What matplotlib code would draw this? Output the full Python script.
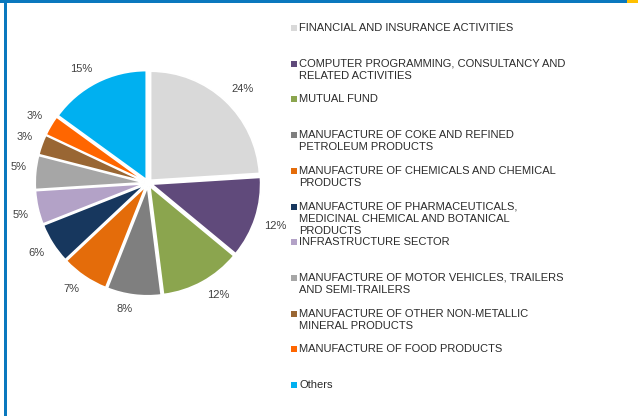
import numpy as np
import matplotlib
matplotlib.use('Agg')
import matplotlib.pyplot as plt
from matplotlib.patches import Rectangle

plt.rcParams['font.family'] = ['Liberation Sans', 'DejaVu Sans']

# data
sectors = [
    'FINANCIAL AND INSURANCE ACTIVITIES',
    'COMPUTER PROGRAMMING, CONSULTANCY AND\nRELATED ACTIVITIES',
    'MUTUAL FUND',
    'MANUFACTURE OF COKE AND REFINED\nPETROLEUM PRODUCTS',
    'MANUFACTURE OF CHEMICALS AND CHEMICAL\nPRODUCTS',
    'MANUFACTURE OF PHARMACEUTICALS,\nMEDICINAL CHEMICAL AND BOTANICAL\nPRODUCTS',
    'INFRASTRUCTURE SECTOR',
    'MANUFACTURE OF MOTOR VEHICLES, TRAILERS\nAND SEMI-TRAILERS',
    'MANUFACTURE OF OTHER NON-METALLIC\nMINERAL PRODUCTS',
    'MANUFACTURE OF FOOD PRODUCTS',
    'Others',
]
shares = [24, 12, 12, 8, 7, 6, 5, 5, 3, 3, 15]
colors = ['#D9D9D9', '#604A7B', '#8BA54E', '#7F7F7F', '#E46C0A', '#17375E',
          '#B3A2C7', '#A6A6A6', '#996633', '#FF6600', '#00B0F0']

W, H = 638, 416
fig = plt.figure(figsize=(W / 100, H / 100), dpi=100)

# pie axes: centre at (148, 183) px, radius 109 px
cx, cy, r = 148, 183, 109
span = 1.35
ax = fig.add_axes([(cx - span * r) / W, (H - cy - span * r) / H,
                   2 * span * r / W, 2 * span * r / H])
wedges, _ = ax.pie(shares, colors=colors, startangle=90, counterclock=False,
                   explode=[0.035] * len(shares),
                   wedgeprops=dict(edgecolor='white', linewidth=1.2))
ax.set_xlim(-span, span)
ax.set_ylim(-span, span)
ax.axis('off')

# percentage labels, box corner touching a ring just outside the pie
total = float(sum(shares))
for w, v in zip(wedges, shares):
    a = np.deg2rad((w.theta1 + w.theta2) / 2)
    x, y = 1.12 * np.cos(a), 1.12 * np.sin(a)
    ha = 'left' if np.cos(a) > 0 else 'right'
    va = 'bottom' if np.sin(a) > 0 else 'top'
    ax.text(x, y, '%d%%' % round(100 * v / total), ha=ha, va=va,
            fontsize=8, color='#404040')

# legend drawn by hand
y0, step, lh = 28, 35.7, 12
for i, (lab, c) in enumerate(zip(sectors, colors)):
    y = y0 + i * step
    fig.add_artist(Rectangle((291 / W, 1 - (y + 3) / H), 6 / W, 6 / H,
                             transform=fig.transFigure, color=c, lw=0))
    for j, line in enumerate(lab.split('\n')):
        fig.text(299 / W, 1 - (y + j * lh) / H, line, fontsize=8,
                 color='#2b2b2b', va='center', ha='left')

# frame lines
fig.add_artist(Rectangle((0, 1 - 2.5 / H), 627 / W, 2.5 / H,
                         transform=fig.transFigure, color='#0A78BE', lw=0))
fig.add_artist(Rectangle((627 / W, 1 - 2.5 / H), 11 / W, 2.5 / H,
                         transform=fig.transFigure, color='#FFC000', lw=0))
fig.add_artist(Rectangle((4 / W, 0), 2.5 / W, 1,
                         transform=fig.transFigure, color='#0A78BE', lw=0))

fig.savefig('out.png', dpi=100)
